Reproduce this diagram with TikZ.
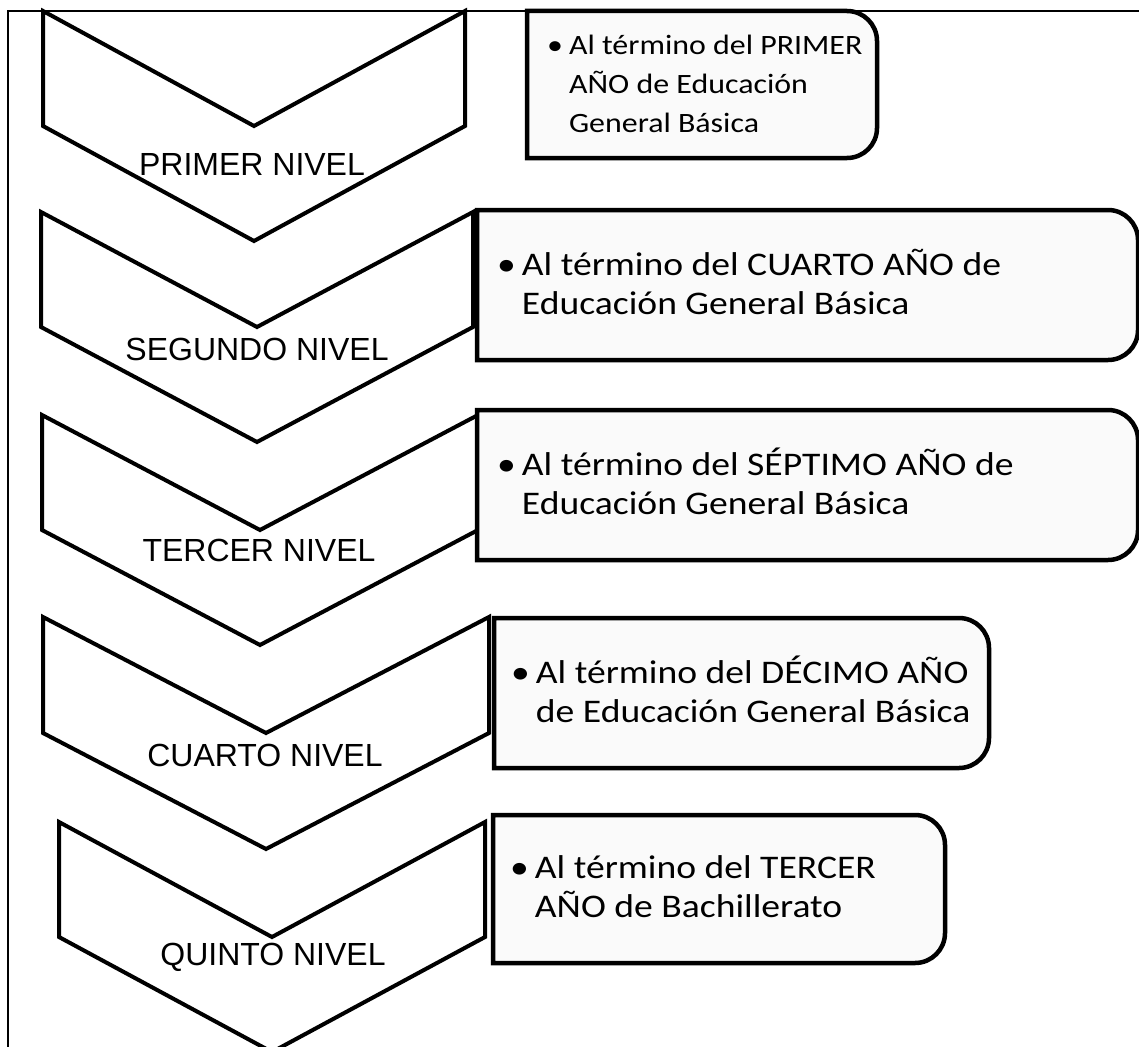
\documentclass[tikz,border=0pt]{standalone}
\usepackage{fontspec}
\setmainfont{Liberation Sans}
\newfontfamily\boxfont[FakeStretch=1.14]{Carlito}
\begin{document}
\begin{tikzpicture}[x=1pt,y=-1pt,
  chev/.style={line width=4pt, line join=miter},
  lvl/.style={font=\fontsize{32}{38}\selectfont, inner sep=0pt},
  boxline/.style={line width=4.5pt, fill=black!2, line join=miter},
  boxtxt/.style={font=\boxfont\fontsize{33}{39}\selectfont, inner sep=0pt, anchor=west, align=left},
  boxtxtsmall/.style={boxtxt, font=\boxfont\fontsize{28}{39}\selectfont}]
\useasboundingbox (0,0) rectangle (1139,1046);
\clip (0,0) rectangle (1139,1046);
\draw[line width=1.5pt] (8,11) rectangle (1170,1080);

% chevrons: left/right/top/side/tip
\foreach \l/\r/\t/\s/\p in {43/465/11/126/241, 41/473/212/327/442, 42/478/415/530/645, 43/489/617/733/849, 59/485/822/937/1052}{
  \draw[chev] (\l,\t) -- ({(\l+\r)/2},\s) -- (\r,\t) -- (\r,\s) -- ({(\l+\r)/2},\p) -- (\l,\s) -- cycle;
}

\node[lvl] (n1) at (252,164) {PRIMER NIVEL};
\node[lvl] (n2) at (257,349) {SEGUNDO NIVEL};
\node[lvl] (n3) at (259,550) {TERCER NIVEL};
\node[lvl] (n4) at (265,755) {CUARTO NIVEL};
\node[lvl] (n5) at (273,957) {QUINTO NIVEL};

% boxes
\foreach \xa/\ya/\xb/\yb in {527/11/877/158, 477/210/1138/360, 477/410/1138/560, 494/618/989/768, 493/815/945/963}{
  \draw[boxline] ({(\xa+\xb)/2},\ya) [rounded corners=30pt] -- (\xb,\ya) -- (\xb,\yb) -- ({(\xa+\xb)/2},\yb) [sharp corners] -- (\xa,\yb) -- (\xa,\ya) -- cycle;
}
\draw[chev] (489,617) -- (489,733);

\node[boxtxtsmall] (t1) at (547,86) {\begin{tabular}{@{}l@{\hspace{6pt}}l@{}}\textbullet & Al término del PRIMER\\ & AÑO de Educación\\ & General Básica\end{tabular}};
\node[boxtxt] (t2) at (497,287) {\begin{tabular}{@{}l@{\hspace{6pt}}l@{}}\textbullet & Al término del CUARTO AÑO de\\ & Educación General Básica\end{tabular}};
\node[boxtxt] (t3) at (497,487) {\begin{tabular}{@{}l@{\hspace{6pt}}l@{}}\textbullet & Al término del SÉPTIMO AÑO de\\ & Educación General Básica\end{tabular}};
\node[boxtxt] (t4) at (511,695) {\begin{tabular}{@{}l@{\hspace{6pt}}l@{}}\textbullet & Al término del DÉCIMO AÑO\\ & de Educación General Básica\end{tabular}};
\node[boxtxt] (t5) at (510,890) {\begin{tabular}{@{}l@{\hspace{6pt}}l@{}}\textbullet & Al término del TERCER\\ & AÑO de Bachillerato\end{tabular}};
\end{tikzpicture}
\end{document}
